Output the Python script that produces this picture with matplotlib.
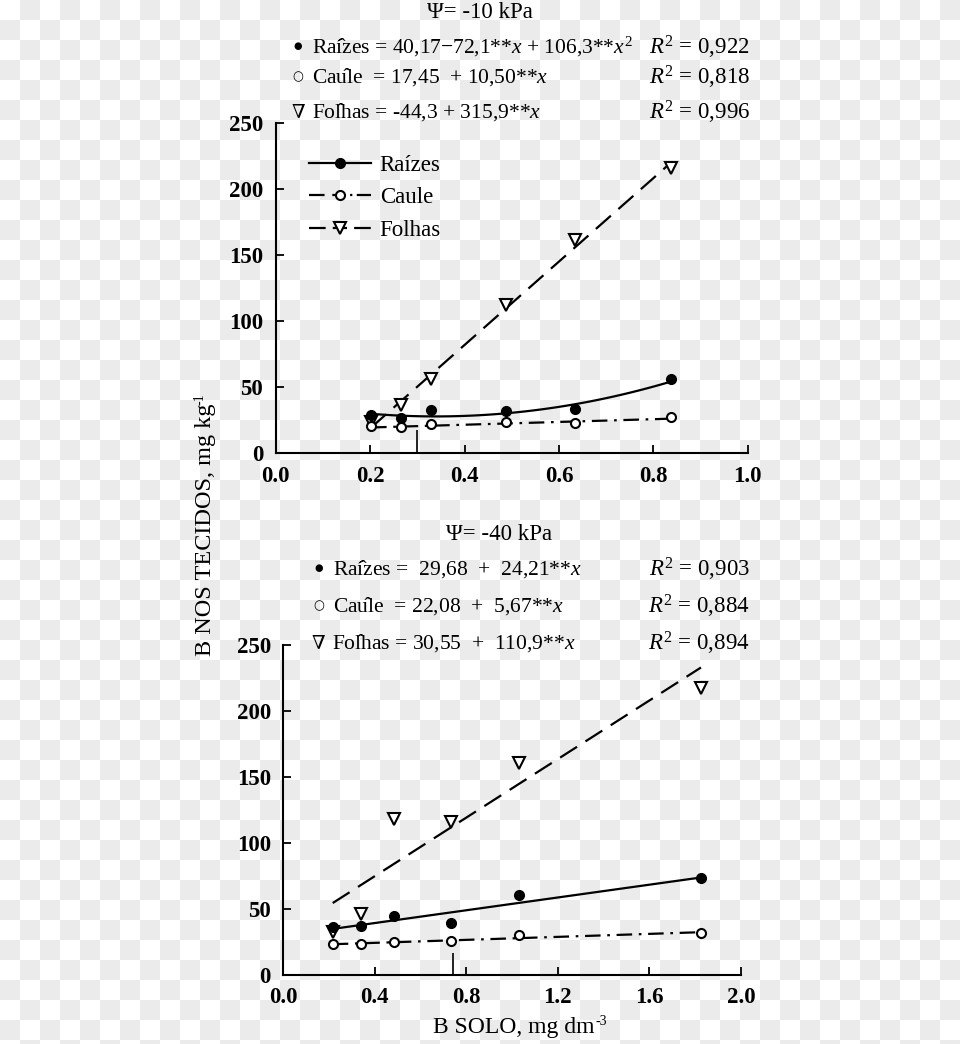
import numpy as np
import matplotlib
matplotlib.use("Agg")
import matplotlib.pyplot as plt
from matplotlib.lines import Line2D
from matplotlib.patches import Rectangle
from matplotlib.collections import PatchCollection

plt.rcParams['font.family'] = ['Liberation Serif', 'DejaVu Serif']
plt.rcParams['mathtext.fontset'] = 'custom'
plt.rcParams['mathtext.rm'] = 'Liberation Serif'
plt.rcParams['mathtext.it'] = 'Liberation Serif:italic'
plt.rcParams['mathtext.bf'] = 'Liberation Serif:bold'

# ---- data, psi = -10 kPa
x_10 = [0.202, 0.265, 0.329, 0.488, 0.633, 0.837]
raizes_10 = [29.3, 27.0, 32.8, 32.3, 33.8, 56.3]
caule_10 = [20.7, 19.7, 22.2, 24.0, 22.7, 27.5]
folhas_10 = [24.0, 36.6, 56.0, 112.0, 161.6, 216.4]
# regression coefficients (b0, b1, b2)
coef_raizes_10 = [40.17, -72.1, 106.3]
coef_caule_10 = [17.45, 10.50, 0.0]
coef_folhas_10 = [-44.3, 315.9, 0.0]
r2_10 = ["0,922", "0,818", "0,996"]
crit_10 = [0.30, 18]

# ---- data, psi = -40 kPa
x_40 = [0.216, 0.338, 0.485, 0.733, 1.031, 1.825]
raizes_40 = [36.6, 37.4, 44.7, 39.4, 60.4, 73.5]
caule_40 = [23.5, 23.7, 25.0, 26.0, 30.6, 31.6]
folhas_40 = [32.6, 46.0, 118.2, 116.0, 160.4, 217.7]
coef_raizes_40 = [29.68, 24.21, 0.0]
coef_caule_40 = [22.08, 5.67, 0.0]
coef_folhas_40 = [30.55, 110.9, 0.0]
r2_40 = ["0,903", "0,884", "0,894"]
crit_40 = [0.74, 17]

W, H = 960, 1044
fig = plt.figure(figsize=(W / 100, H / 100), dpi=100)

# transparent-background checkerboard as in the reference image
SQ = 20
squares = []
for i in range(H // SQ + 1):
    for j in range(W // SQ):
        if (i + j) % 2 == 1:
            squares.append(Rectangle((j * SQ / W, 1 - (i + 1) * SQ / H),
                                     SQ / W, SQ / H))
fig.add_artist(PatchCollection(squares, facecolor='#ebebeb', edgecolor='none',
                               transform=fig.transFigure, zorder=-5,
                               antialiased=False))


def px(x, y):
    return x / W, 1 - y / H


def poly(c, x):
    return c[0] + c[1] * x + c[2] * x ** 2


DASH_FOL = (0, (9, 4.5))
DASH_CAU = (0, (7, 3, 1.2, 3))


def draw_panel(ax, x, rz, ca, fo, crz, cca, cfo, crit, xmax, xticks):
    x = np.array(x)
    xs = np.linspace(x.min(), x.max(), 100)
    ax.plot(xs, poly(crz, xs), color='black', lw=1.6)
    ax.plot(xs, poly(cca, xs), color='black', lw=1.6, linestyle=DASH_CAU)
    ax.plot(xs, poly(cfo, xs), color='black', lw=1.6, linestyle=DASH_FOL)
    ax.plot(x, rz, 'o', color='black', ms=7, zorder=5)
    ax.plot(x, ca, 'o', mfc='white', mec='black', mew=1.5, ms=6.5, zorder=5)
    ax.plot(x, fo, 'v', mfc='white', mec='black', mew=1.5, ms=8, zorder=4)
    ax.vlines(crit[0], 0, crit[1], color='black', lw=1.2)

    ax.set_xlim(0, xmax)
    ax.set_ylim(0, 250)
    ax.set_xticks(xticks)
    ax.set_xticklabels([f"{t:.1f}" for t in xticks])
    ax.set_yticks(range(0, 251, 50))
    ax.set_facecolor('none')
    ax.spines['top'].set_visible(False)
    ax.spines['right'].set_visible(False)
    for s in ['left', 'bottom']:
        ax.spines[s].set_linewidth(1.5)
    ax.tick_params(direction='in', length=6, width=1.3, labelsize=16.5, pad=9)
    for lab in ax.get_xticklabels() + ax.get_yticklabels():
        lab.set_fontweight('bold')


ax1 = fig.add_axes([0.2872, 0.5658, 0.4917, 0.3161])
draw_panel(ax1, x_10, raizes_10, caule_10, folhas_10, coef_raizes_10,
           coef_caule_10, coef_folhas_10, crit_10, 1.0,
           [0.0, 0.2, 0.4, 0.6, 0.8, 1.0])

ax2 = fig.add_axes([0.2951, 0.0661, 0.4768, 0.3161])
draw_panel(ax2, x_40, raizes_40, caule_40, folhas_40, coef_raizes_40,
           coef_caule_40, coef_folhas_40, crit_40, 2.0,
           [0.0, 0.4, 0.8, 1.2, 1.6, 2.0])

# legend in top panel (handle dashes laid out as in the original key)
handles = [
    Line2D([], [], color='black', lw=1.6, marker='o', ms=7),
    Line2D([], [], color='black', lw=1.6,
           linestyle=(0, (7, 3.5, 6, 2, 1, 2, 6.5, 50)), marker='o',
           mfc='white', mec='black', mew=1.5, ms=6.5),
    Line2D([], [], color='black', lw=1.6,
           linestyle=(0, (7.5, 3.2, 6.4, 3.2, 7.5, 50)), marker='v',
           mfc='white', mec='black', mew=1.5, ms=8),
]
ax1.legend(handles, ["Raízes", "Caule", "Folhas"], loc='upper left',
           bbox_to_anchor=(0.07, 0.905), frameon=False, fontsize=16.5,
           handlelength=2.7, handletextpad=0.4, labelspacing=0.5,
           borderpad=0, borderaxespad=0)

# equations
H_ = "\u0302"
eq_size = 15.5
sym_font = ['DejaVu Serif']


def eq_line(xs, y, sym, text, r2, sym_size=11):
    fig.text(*px(xs, y), sym, ha='center', va='center', fontsize=sym_size,
             family=sym_font)
    fig.text(*px(xs + 14, y), text, ha='left', va='center', fontsize=eq_size)
    fig.text(*px(750, y), "$R^2$ = " + r2, ha='right', va='center',
             fontsize=16.5)


fig.text(*px(480, 12), "Ψ= -10 kPa", ha='center', va='center', fontsize=16.5)
eq_line(298, 47, "●", "Raí" + H_ + "zes = 40,17$-$72,1**$x$ + 106,3**$x^2$", r2_10[0], 7)
eq_line(298, 77, "○", "Cau" + H_ + "le  = 17,45  + 10,50**$x$", r2_10[1], 9)
eq_line(298, 112, "∇", "Fol" + H_ + "has = -44,3 + 315,9**$x$", r2_10[2], 14)

fig.text(*px(499, 535), "Ψ= -40 kPa", ha='center', va='center', fontsize=16.5)
eq_line(319, 569, "●", "Raí" + H_ + "zes =  29,68  +  24,21**$x$", r2_40[0], 7)
eq_line(319, 606, "○", "Cau" + H_ + "le  = 22,08  +  5,67**$x$", r2_40[1], 9)
eq_line(318, 643, "∇", "Fol" + H_ + "has = 30,55  +  110,9**$x$", r2_40[2], 14)

# axis titles, with small hyphen superscripts as in the original
ylab = fig.text(*px(205, 530), "B NOS TECIDOS, mg kg", rotation=90,
                ha='center', va='center', fontsize=17.5)
plt.annotate("-1", xy=(0, 1), xycoords=ylab, rotation=90, ha='left',
             va='bottom', fontsize=10, xytext=(-1, -1), textcoords='offset points',
             annotation_clip=False)
xlab = fig.text(*px(514, 1028), "B SOLO, mg dm", ha='center', va='center',
                fontsize=17)
plt.annotate("-3", xy=(1, 1), xycoords=xlab, ha='left', va='top',
             fontsize=10, xytext=(0.5, 2), textcoords='offset points',
             annotation_clip=False)

fig.savefig("out.png", dpi=100)
